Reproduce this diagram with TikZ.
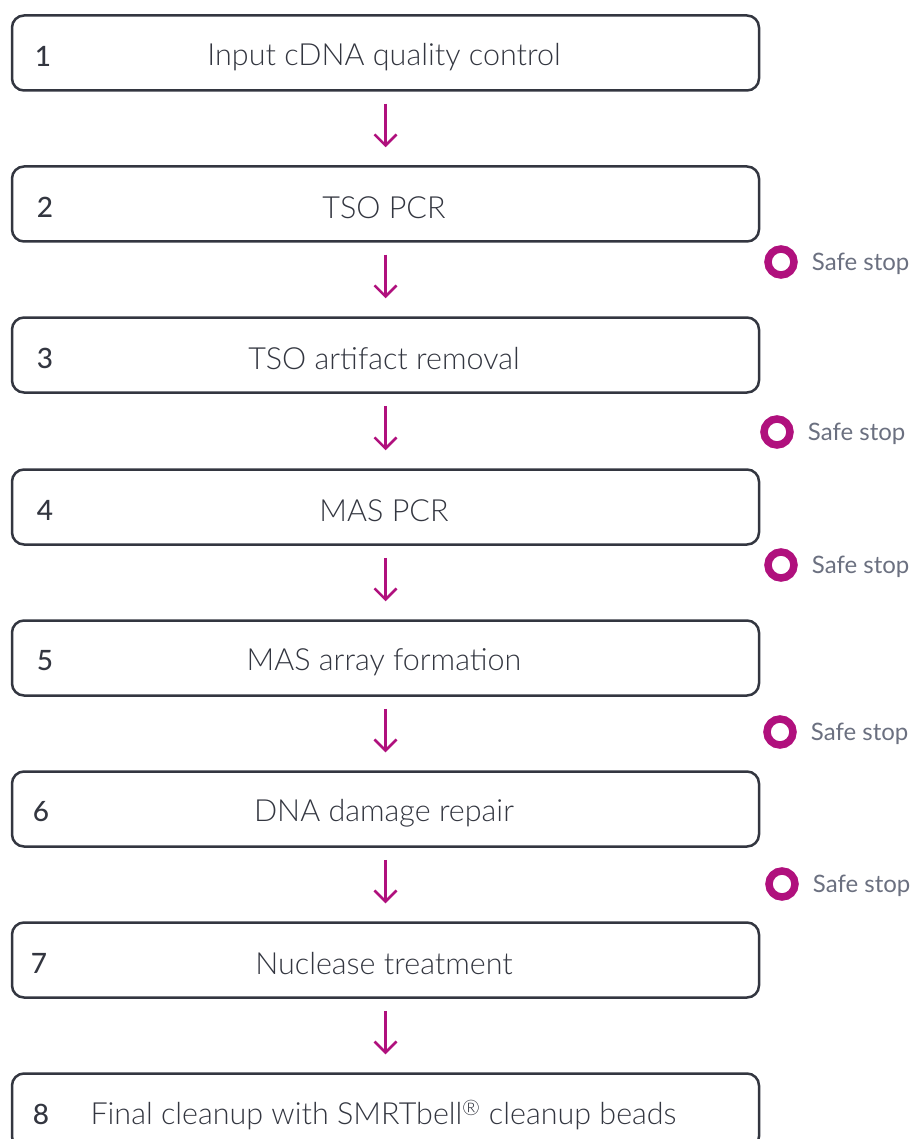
\documentclass[tikz,border=0pt]{standalone}
\usepackage{fontspec}
\setmainfont{Lato Light}
\newfontfamily\numfont{Lato Medium}
\newfontfamily\stopfont{Lato}
\usetikzlibrary{arrows.meta,positioning}
\definecolor{MyBox}{RGB}{51,54,64}
\definecolor{MyMag}{RGB}{176,16,125}
\definecolor{MyGrey}{RGB}{107,112,128}
\tikzset{
    stepbox/.style={
      rectangle,
      draw=MyBox,
      line width=2.5pt,
      rounded corners=12pt,
      minimum width=747pt,
      minimum height=75pt,
      inner sep=0pt
    },
    steptext/.style={text=MyBox, font=\fontsize{30.5}{34}\selectfont},
    stepnum/.style={text=MyBox, font=\numfont\fontsize{28}{32}\selectfont},
    flow/.style={
      -{Straight Barb[length=11pt,width=22pt]},
      draw=MyMag,
      line width=2.5pt,
      shorten <=12pt,
      shorten >=18pt
    },
    safestop/.style={circle, draw=MyMag, line width=7.5pt, minimum size=26pt, inner sep=0pt},
    safetext/.style={text=MyGrey, font=\stopfont\fontsize{24}{28}\selectfont, anchor=west, inner sep=0pt},
}

\begin{document}
\begin{tikzpicture}[x=1pt,y=-1pt]
    \useasboundingbox (0,0) rectangle (922,1139);

    % process steps
    \node[stepbox] at (385.5,53) (b1) {};
    \node[stepbox] at (385.5,204) (b2) {};
    \node[stepbox] at (385.5,355) (b3) {};
    \node[stepbox] at (385.5,507) (b4) {};
    \node[stepbox] at (385.5,658) (b5) {};
    \node[stepbox] at (385.5,809) (b6) {};
    \node[stepbox] at (385.5,960) (b7) {};
    \node[stepbox] at (385.5,1111) (b8) {};

    \node[stepnum] at (43,56) (n1) {1};
    \node[stepnum] at (45,207) (n2) {2};
    \node[stepnum] at (45,358) (n3) {3};
    \node[stepnum] at (45,510) (n4) {4};
    \node[stepnum] at (45,661) (n5) {5};
    \node[stepnum] at (41,812) (n6) {6};
    \node[stepnum] at (39,963) (n7) {7};
    \node[stepnum] at (41,1114) (n8) {8};

    \node[steptext] at (384,57) (t1) {Input cDNA quality control};
    \node[steptext] at (384,208) (t2) {TSO PCR};
    \node[steptext] at (384,359) (t3) {TSO artifact removal};
    \node[steptext] at (384,511) (t4) {MAS PCR};
    \node[steptext] at (384,662) (t5) {MAS array formation};
    \node[steptext] at (384,813) (t6) {DNA damage repair};
    \node[steptext] at (384,964) (t7) {Nuclease treatment};
    \node[steptext,anchor=west] at (87,1115) (t8)
      {Final cleanup with SMRTbell\textsuperscript{\textregistered} cleanup beads};

    \draw[flow] (b1) -- (b2);
    \draw[flow] (b2) -- (b3);
    \draw[flow] (b3) -- (b4);
    \draw[flow] (b4) -- (b5);
    \draw[flow] (b5) -- (b6);
    \draw[flow] (b6) -- (b7);
    \draw[flow] (b7) -- (b8);

    % safe stopping points
    \node[safestop] at (781,262) (s2) {};
    \node[safestop] at (777,432) (s3) {};
    \node[safestop] at (781,565) (s4) {};
    \node[safestop] at (780,732) (s5) {};
    \node[safestop] at (782,884) (s6) {};

    \node[safetext,right=14pt of s2,yshift=-2pt] (l2) {Safe stop};
    \node[safetext,right=14pt of s3,yshift=-2pt] (l3) {Safe stop};
    \node[safetext,right=14pt of s4,yshift=-2pt] (l4) {Safe stop};
    \node[safetext,right=14pt of s5,yshift=-2pt] (l5) {Safe stop};
    \node[safetext,right=14pt of s6,yshift=-2pt] (l6) {Safe stop};

\end{tikzpicture}
\end{document}
